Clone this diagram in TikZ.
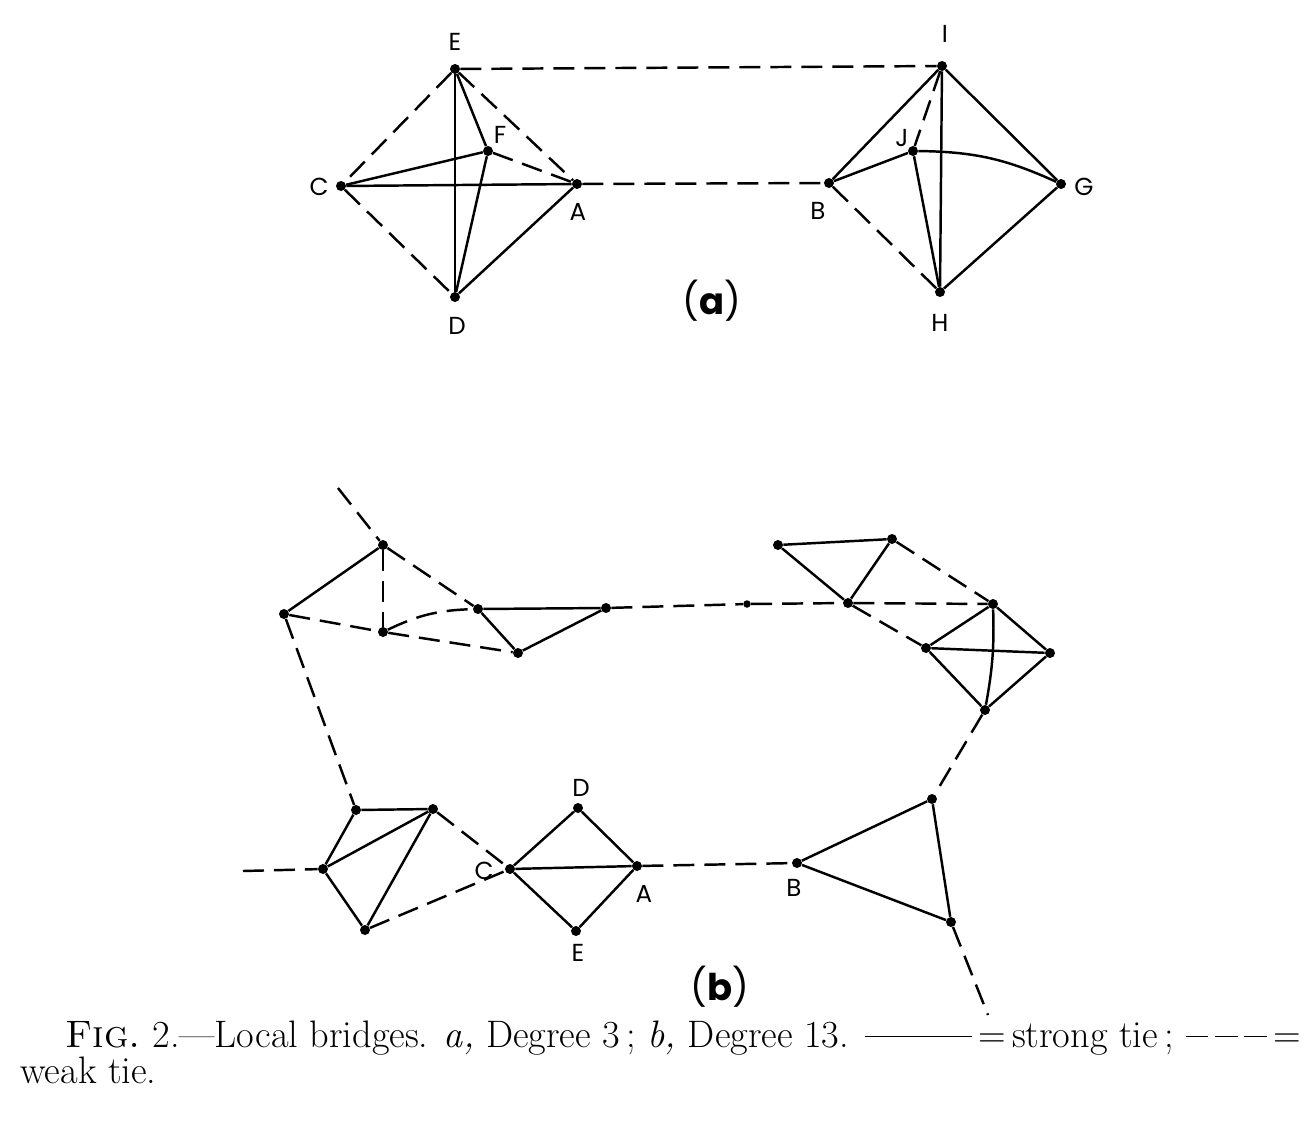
\documentclass[tikz,border=0pt]{standalone}
\usepackage{fontspec}
\newfontfamily\lblfont{Poppins}
\usetikzlibrary{positioning}

\begin{document}
\begin{tikzpicture}[
  x=0.02cm, y=-0.02cm,
  dot/.style={circle, fill=black, inner sep=0pt, minimum size=0.2cm},
  strong/.style={line width=1.4pt},
  weak/.style={line width=1.4pt, dash pattern=on 0.42cm off 0.2cm},
  lbl/.style={font=\lblfont\fontsize{14}{14}\selectfont, inner sep=0pt},
  panel/.style={font=\lblfont\fontsize{21}{21}\selectfont, inner sep=0pt},
  caption/.style={font=\fontsize{21.8}{24}\selectfont, inner sep=0pt, anchor=base west}
]
\useasboundingbox (0,0) rectangle (1313,1144);

%% ---- (a) left group ----
\node[dot] (aE) at (455,69)  {};
\node[dot] (aF) at (488,151) {};
\node[dot] (aC) at (341,186) {};
\node[dot] (aA) at (577,184) {};
\node[dot] (aD) at (455,297) {};
%% ---- (a) right group ----
\node[dot] (aI) at (942,66)  {};
\node[dot] (aJ) at (913,151) {};
\node[dot] (aB) at (829,183) {};
\node[dot] (aG) at (1061,184) {};
\node[dot] (aH) at (940,292) {};

\node[lbl] (laE) at (455,42)  {E};
\node[lbl] (laF) at (500,135) {F};
\node[lbl] (laC) at (319,187) {C};
\node[lbl] (laA) at (578,212) {A};
\node[lbl] (laD) at (457,326) {D};
\node[lbl] (laI) at (945,34)  {I};
\node[lbl] (laJ) at (902,138) {J};
\node[lbl] (laB) at (818,211) {B};
\node[lbl] (laG) at (1084,187) {G};
\node[lbl] (laH) at (940,323) {H};
\node[panel] (pa) at (712,301) {(\textbf{a})};

%% ---- (a) ties ----
\draw[weak] (aE) -- (aI);
\draw[weak] (aA) -- (aB);
\draw[weak] (aE) -- (aC);
\draw[weak] (aC) -- (aD);
\draw[weak] (aE) -- (aA);
\draw[weak] (aF) -- (aA);
\draw[strong] (aE) -- (aD);
\draw[strong] (aE) -- (aF);
\draw[strong] (aC) -- (aF);
\draw[strong] (aC) -- (aA);
\draw[strong] (aF) -- (aD);
\draw[strong] (aD) -- (aA);

\draw[strong] (aI) -- (aB);
\draw[weak]   (aI) -- (aJ);
\draw[strong] (aI) -- (aH);
\draw[strong] (aI) -- (aG);
\draw[strong] (aB) -- (aJ);
\draw[strong] (aJ) to[bend left=12] (aG);
\draw[weak]   (aB) -- (aH);
\draw[strong] (aJ) -- (aH);
\draw[strong] (aH) -- (aG);

%% ---- (b) upper left group ----
\node[dot] (p1) at (383,545) {};
\node[dot] (p2) at (284,614) {};
\node[dot] (p3) at (383,632) {};
\node[dot] (p4) at (478,609) {};
\node[dot] (p5) at (518,653) {};
\node[dot] (p6) at (606,608) {};
\node[dot, minimum size=0.15cm] (m) at (747,604) {};
\coordinate (o1) at (338,488);

%% ---- (b) upper right groups ----
\node[dot] (q1) at (778,545) {};
\node[dot] (q2) at (892,539) {};
\node[dot] (q3) at (848,603) {};
\node[dot] (r1) at (993,604) {};
\node[dot] (r2) at (926,648) {};
\node[dot] (r3) at (1050,653) {};
\node[dot] (r4) at (985,710) {};

%% ---- (b) lower groups ----
\node[dot] (t1) at (356,810) {};
\node[dot] (t2) at (433,809) {};
\node[dot] (t3) at (323,869) {};
\node[dot] (t4) at (365,930) {};
\coordinate (o2) at (243,871);

\node[dot] (bC) at (510,869) {};
\node[dot] (bD) at (578,808) {};
\node[dot] (bA) at (637,866) {};
\node[dot] (bE) at (576,931) {};

\node[dot] (bB) at (797,863) {};
\node[dot] (s1) at (932,799) {};
\node[dot] (s2) at (951,922) {};
\coordinate (o3) at (988,1015);

\node[lbl] (lbD) at (581,788) {D};
\node[lbl] (lbC) at (484,871) {C};
\node[lbl] (lbA) at (644,894) {A};
\node[lbl] (lbE) at (578,953) {E};
\node[lbl] (lbB) at (794,888) {B};
\node[panel] (pb) at (720,987) {(\textbf{b})};

%% ---- (b) ties ----
\draw[weak]   (o1) -- (p1);
\draw[strong] (p1) -- (p2);
\draw[weak]   (p1) -- (p3);
\draw[weak]   (p1) -- (p4);
\draw[weak]   (p2) -- (p3);
\draw[weak]   (p3) -- (p5);
\draw[weak]   (p3) to[bend left=12] (p4);
\draw[strong] (p4) -- (p6);
\draw[strong] (p4) -- (p5);
\draw[strong] (p5) -- (p6);
\draw[weak]   (p6) -- (m);
\draw[weak]   (m) -- (q3);
\draw[weak]   (q3) -- (r1);

\draw[strong] (q1) -- (q2);
\draw[strong] (q1) -- (q3);
\draw[strong] (q2) -- (q3);
\draw[weak]   (q2) -- (r1);
\draw[weak]   (q3) -- (r2);
\draw[strong] (r1) -- (r2);
\draw[strong] (r1) -- (r3);
\draw[strong] (r2) -- (r3);
\draw[strong] (r2) -- (r4);
\draw[strong] (r3) -- (r4);
\draw[strong] (r1) to[bend left=6] (r4);
\draw[weak]   (r4) -- (s1);

\draw[weak]   (p2) -- (t1);
\draw[weak]   (o2) -- (t3);
\draw[strong] (t1) -- (t2);
\draw[strong] (t1) -- (t3);
\draw[strong] (t3) -- (t2);
\draw[strong] (t2) -- (t4);
\draw[strong] (t3) -- (t4);
\draw[weak]   (t2) -- (bC);
\draw[weak]   (t4) -- (bC);

\draw[strong] (bC) -- (bD);
\draw[strong] (bD) -- (bA);
\draw[strong] (bC) -- (bA);
\draw[strong] (bC) -- (bE);
\draw[strong] (bE) -- (bA);
\draw[weak]   (bA) -- (bB);

\draw[strong] (bB) -- (s1);
\draw[strong] (bB) -- (s2);
\draw[strong] (s1) -- (s2);
\draw[weak]   (s2) -- (o3);

%% ---- caption ----
\node[caption] (cap1) at (65,1047)
  {\textsc{Fig.}~2.---Local bridges. \textit{a,} Degree~3\,; \textit{b,} Degree~13. \rule[0.6ex]{2.8em}{0.7pt}\,=\,strong tie\,; \rule[0.6ex]{0.6em}{0.7pt}\,\rule[0.6ex]{0.6em}{0.7pt}\,\rule[0.6ex]{0.6em}{0.7pt}\,=};
\node[caption] (cap2) at (20,1083) {weak tie.};
\end{tikzpicture}
\end{document}
